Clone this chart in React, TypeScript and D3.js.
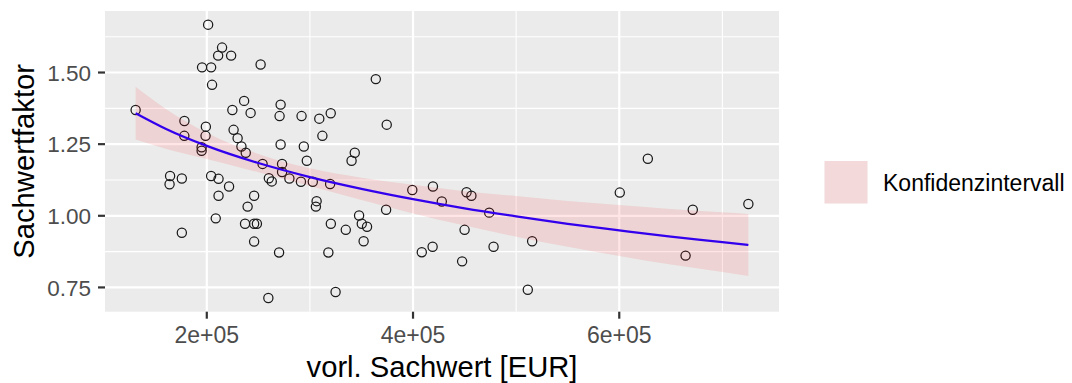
import React from 'react';
import * as d3 from 'd3';

// Vorläufiger Sachwert in EUR und zugehöriger Sachwertfaktor je Objekt
const sachwert = [
  131000, 164400, 163900, 175800, 175800, 178300, 178200, 195000, 195000, 195400,
  199100, 198800, 201300, 204200, 205100, 204200, 211400, 211400, 208700, 211000,
  214800, 223600, 221600, 224800, 226000, 229900, 233600, 236200, 237800, 237100,
  239600, 242500, 245900, 245900, 248600, 245900, 252200, 254100, 259700, 260200,
  263000, 270100, 271600, 270600, 271600, 273000, 273000, 280100, 291900, 294100,
  291300, 297000, 302800, 306500, 305800, 309100, 312100, 320200, 319600, 320300,
  317900, 324900, 334800, 340400, 343500, 347700, 350300, 355400, 352100, 363900,
  374500, 373900, 399300, 408500, 419000, 419300, 427900, 447600, 450000, 451900,
  456600, 473900, 478100, 511300, 515500, 600500, 627700, 664300, 671300, 725200,
];
const faktor = [
  1.369, 1.139, 1.110, 1.130, 0.941, 1.331, 1.279, 1.239, 1.227, 1.518,
  1.311, 1.279, 1.667, 1.518, 1.457, 1.139, 1.129, 1.070, 0.991, 1.559,
  1.587, 1.559, 1.102, 1.369, 1.300, 1.271, 1.242, 1.401, 1.220, 0.972,
  1.032, 1.359, 1.070, 0.972, 0.972, 0.910, 1.528, 1.181, 0.713, 1.131,
  1.120, 0.872, 1.388, 1.348, 1.249, 1.181, 1.153, 1.130, 1.348, 1.242,
  1.119, 1.192, 1.119, 1.051, 1.032, 1.339, 1.279, 1.358, 1.111, 0.972,
  0.872, 0.734, 0.951, 1.192, 1.220, 1.001, 0.972, 0.962, 0.911, 1.477,
  1.318, 1.021, 1.090, 0.873, 0.892, 1.102, 1.050, 0.841, 0.951, 1.082,
  1.070, 1.011, 0.892, 0.742, 0.911, 1.081, 1.199, 0.861, 1.021, 1.041,
];

// Regressionskurve mit Konfidenzband
const fitX = [131000, 160000, 200000, 250000, 300000, 350000, 400000, 450000, 500000, 550000, 600000, 650000, 700000, 725200];
const fitY = [1.358, 1.304, 1.244, 1.184, 1.135, 1.094, 1.058, 1.026, 0.998, 0.972, 0.949, 0.927, 0.908, 0.898];
const fitLower = [1.266, 1.234, 1.198, 1.152, 1.104, 1.055, 1.008, 0.966, 0.927, 0.892, 0.860, 0.830, 0.804, 0.790];
const fitUpper = [1.450, 1.374, 1.290, 1.216, 1.166, 1.133, 1.108, 1.086, 1.069, 1.052, 1.038, 1.024, 1.012, 1.006];

const xTicks = [200000, 400000, 600000];
const xTickLabels = ['2e+05', '4e+05', '6e+05'];
const xMinor = [300000, 500000, 700000];
const yTicks = [0.75, 1.0, 1.25, 1.5];
const yTickLabels = ['0.75', '1.00', '1.25', '1.50'];
const yMinor = [0.875, 1.125, 1.375, 1.625];

const xTitle = 'vorl. Sachwert [EUR]';
const yTitle = 'Sachwertfaktor';
const legendLabel = 'Konfidenzintervall';

const W = 1072;
const H = 383;
const panel = { left: 105, right: 779, top: 11, bottom: 311.7 };
const FONT = '"Liberation Sans", Arial, sans-serif';

function expand(ext: [number, number], f = 0.05): [number, number] {
  const d = (ext[1] - ext[0]) * f;
  return [ext[0] - d, ext[1] + d];
}

export default function App() {
  const x = d3
    .scaleLinear()
    .domain(expand(d3.extent(sachwert) as [number, number]))
    .range([panel.left, panel.right]);
  const y = d3
    .scaleLinear()
    .domain(expand(d3.extent(faktor) as [number, number]))
    .range([panel.bottom, panel.top]);

  const fit = fitX.map((v, i) => ({ x: v, y: fitY[i], lo: fitLower[i], hi: fitUpper[i] }));
  const area = d3
    .area<typeof fit[number]>()
    .x((d) => x(d.x))
    .y0((d) => y(d.lo))
    .y1((d) => y(d.hi))
    .curve(d3.curveMonotoneX);
  const line = d3
    .line<typeof fit[number]>()
    .x((d) => x(d.x))
    .y((d) => y(d.y))
    .curve(d3.curveMonotoneX);

  const pw = panel.right - panel.left;
  const ph = panel.bottom - panel.top;

  return (
    <svg
      width={W}
      height={H}
      style={{ position: 'absolute', left: 0, top: 0, background: '#fff' }}
      fontFamily={FONT}
    >
      <defs>
        <clipPath id="panel-clip">
          <rect x={panel.left} y={panel.top} width={pw} height={ph} />
        </clipPath>
      </defs>
      <rect x={panel.left} y={panel.top} width={pw} height={ph} fill="#EBEBEB" />
      <g clipPath="url(#panel-clip)">
        {xMinor.map((v) => (
          <line key={'xm' + v} x1={x(v)} x2={x(v)} y1={panel.top} y2={panel.bottom} stroke="#fff" strokeWidth={1.1} />
        ))}
        {yMinor.map((v) => (
          <line key={'ym' + v} x1={panel.left} x2={panel.right} y1={y(v)} y2={y(v)} stroke="#fff" strokeWidth={1.1} />
        ))}
        {xTicks.map((v) => (
          <line key={'xM' + v} x1={x(v)} x2={x(v)} y1={panel.top} y2={panel.bottom} stroke="#fff" strokeWidth={2.2} />
        ))}
        {yTicks.map((v) => (
          <line key={'yM' + v} x1={panel.left} x2={panel.right} y1={y(v)} y2={y(v)} stroke="#fff" strokeWidth={2.2} />
        ))}
        {sachwert.map((v, i) => (
          <circle key={'p' + i} cx={x(v)} cy={y(faktor[i])} r={4.6} fill="none" stroke="#1a1a1a" strokeWidth={1.25} />
        ))}
        <path d={area(fit) ?? ''} fill="#ff0000" fillOpacity={0.1} />
        <path d={line(fit) ?? ''} fill="none" stroke="#3300ee" strokeWidth={2.2} />
      </g>

      {/* y axis */}
      {yTicks.map((v, i) => (
        <g key={'yt' + v}>
          <line x1={panel.left - 7} x2={panel.left} y1={y(v)} y2={y(v)} stroke="#333" strokeWidth={2.2} />
          <text x={91} y={y(v)} dy="0.36em" textAnchor="end" fontSize={22.5} fill="#4D4D4D">
            {yTickLabels[i]}
          </text>
        </g>
      ))}
      {/* x axis */}
      {xTicks.map((v, i) => (
        <g key={'xt' + v}>
          <line x1={x(v)} x2={x(v)} y1={panel.bottom} y2={panel.bottom + 7} stroke="#333" strokeWidth={2.2} />
          <text x={x(v)} y={343} textAnchor="middle" fontSize={23} fill="#4D4D4D">
            {xTickLabels[i]}
          </text>
        </g>
      ))}
      <text x={(panel.left + panel.right) / 2} y={376.5} textAnchor="middle" fontSize={29.2} fill="#000">
        {xTitle}
      </text>
      <text
        transform={`translate(33.5, ${(panel.top + panel.bottom) / 2}) rotate(-90)`}
        textAnchor="middle"
        fontSize={29.2}
        fill="#000"
      >
        {yTitle}
      </text>

      {/* legend */}
      <rect x={824.5} y={161} width={43} height={42.5} fill="#F2F2F2" />
      <rect x={824.5} y={161} width={43} height={42.5} fill="#ff0000" fillOpacity={0.1} />
      <text x={883} y={182.5} dy="0.36em" fontSize={23} fill="#000">
        {legendLabel}
      </text>
    </svg>
  );
}
